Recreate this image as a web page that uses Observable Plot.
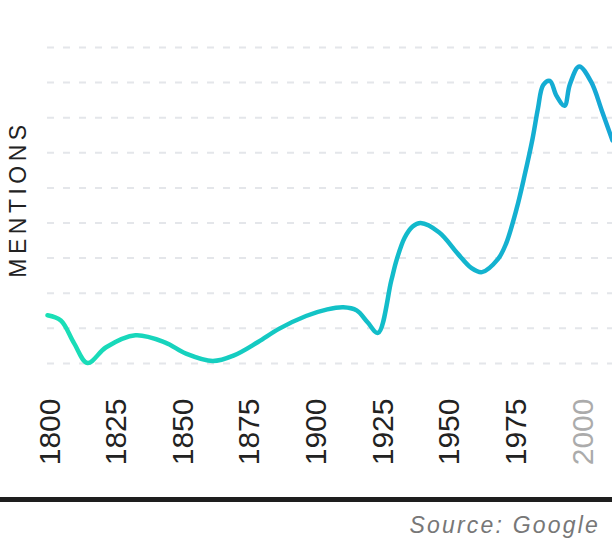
<!DOCTYPE html>
<html>
<head>
<meta charset="utf-8">
<script src="https://cdn.jsdelivr.net/npm/d3@7"></script>
<script src="https://cdn.jsdelivr.net/npm/@observablehq/plot@0.6"></script>
<style>
  html, body { margin: 0; padding: 0; background: #fff; }
  #wrap { position: relative; width: 612px; height: 544px; overflow: hidden; font-family: "Liberation Sans", Arial, Helvetica, sans-serif; }
  #rule { position: absolute; left: 0; top: 497px; width: 612px; height: 5px; background: #1e1e1e; }
  #source { position: absolute; right: 12px; top: 512px; font-size: 23px; font-style: italic; letter-spacing: 2.2px; color: #777; white-space: nowrap; }
</style>
</head>
<body>
<div id="wrap"></div>
<script>
const years = [1800, 1805, 1810, 1815, 1822, 1833, 1844, 1852, 1862, 1870, 1879, 1887, 1897, 1905, 1911, 1916, 1920, 1924, 1929, 1931, 1934, 1937, 1940, 1947, 1954, 1959, 1963, 1969, 1972, 1976, 1979, 1982, 1984, 1986, 1988.5, 1991, 1994, 1996, 1999.5, 2004, 2008, 2012];
const mentions = [2.37, 2.22, 1.57, 1.01, 1.46, 1.80, 1.60, 1.28, 1.07, 1.23, 1.61, 1.99, 2.35, 2.54, 2.60, 2.51, 2.18, 1.87, 3.36, 3.95, 4.58, 4.90, 5.00, 4.73, 4.12, 3.72, 3.60, 3.97, 4.40, 5.40, 6.35, 7.40, 8.25, 8.93, 9.05, 8.62, 8.34, 8.95, 9.46, 9.02, 8.20, 7.35];
const tickYears = [1800, 1825, 1850, 1875, 1900, 1925, 1950, 1975, 2000];
const mutedTicks = [2000];
const gridValues = [1, 2, 3, 4, 5, 6, 7, 8, 9, 10];
const xDomain = [1800, 2012];
const yDomain = [0, 10];
const yLabel = "MENTIONS";
const sourceText = "Source: Google";

const data = years.map((y, i) => ({year: y, value: mentions[i]}));

const chart = Plot.plot({
  width: 612,
  height: 497,
  marginTop: 47,
  marginBottom: 99,
  marginLeft: 47,
  marginRight: 0,
  style: {fontFamily: "'Liberation Sans', Arial, Helvetica, sans-serif", background: "transparent", overflow: "hidden"},
  x: {domain: xDomain, axis: null},
  y: {domain: yDomain, axis: null},
  marks: [
    Plot.ruleY(gridValues, {stroke: "#e4e6ea", strokeWidth: 2, strokeDasharray: "7,9"}),
    Plot.line(data, {x: "year", y: "value", stroke: "#14c4c4", strokeWidth: 4.5, curve: "catmull-rom"}),
    Plot.text(tickYears, {
      x: d => d,
      frameAnchor: "bottom",
      text: d => String(d),
      rotate: -90,
      textAnchor: "end",
      fontSize: 30,
      dx: 12,
      dy: 0,
      fill: d => mutedTicks.includes(d) ? "#ababab" : "#222"
    })
  ]
});

const svg = d3.select(chart);
const xs = chart.scale("x");
const defs = svg.insert("defs", ":first-child");
const grad = defs.append("linearGradient")
  .attr("id", "lineGrad")
  .attr("gradientUnits", "userSpaceOnUse")
  .attr("x1", xs.apply(xDomain[0])).attr("x2", xs.apply(xDomain[1]))
  .attr("y1", 0).attr("y2", 0);
grad.append("stop").attr("offset", "0%").attr("stop-color", "#1ae0b6");
grad.append("stop").attr("offset", "55%").attr("stop-color", "#12bfc8");
grad.append("stop").attr("offset", "100%").attr("stop-color", "#15a7d6");
svg.selectAll("g[aria-label=line] path").attr("stroke", "url(#lineGrad)");

// y-axis title
svg.append("text")
  .attr("transform", "translate(26,199) rotate(-90)")
  .attr("text-anchor", "middle")
  .attr("font-size", 23)
  .attr("letter-spacing", "4.5px")
  .attr("fill", "#222")
  .text(yLabel);

const wrap = document.getElementById("wrap");
wrap.appendChild(chart);
const rule = document.createElement("div");
rule.id = "rule";
wrap.appendChild(rule);
const src = document.createElement("div");
src.id = "source";
src.textContent = sourceText;
wrap.appendChild(src);
</script>
</body>
</html>
